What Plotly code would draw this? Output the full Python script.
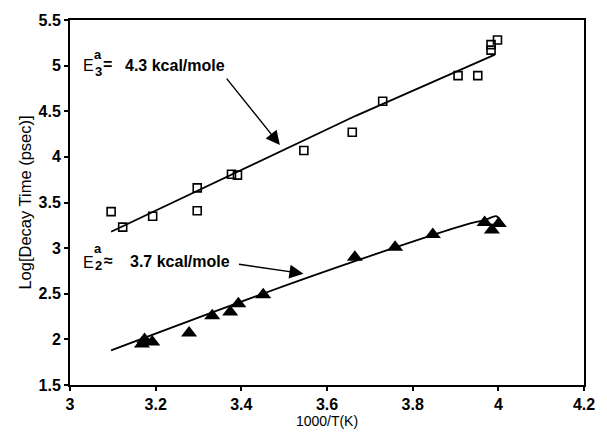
import plotly.graph_objects as go

# open squares: E3 data
sq_x = [3.096, 3.123, 3.193, 3.297, 3.297, 3.377, 3.391, 3.546, 3.659, 3.730, 3.906, 3.952, 3.983, 3.983, 3.998]
sq_y = [3.40, 3.23, 3.35, 3.66, 3.41, 3.81, 3.80, 4.07, 4.27, 4.61, 4.89, 4.89, 5.17, 5.23, 5.28]
# fit line for squares
fit3_x = [3.096, 3.49, 3.667, 3.992]
fit3_y = [3.18, 4.06, 4.45, 5.12]

# filled triangles: E2 data
tr_x = [3.168, 3.174, 3.192, 3.278, 3.332, 3.374, 3.393, 3.451, 3.665, 3.759, 3.847, 3.968, 3.985, 4.001]
tr_y = [1.95, 2.00, 1.97, 2.07, 2.26, 2.30, 2.39, 2.49, 2.90, 3.01, 3.15, 3.28, 3.20, 3.27]
# fit line for triangles
fit2_x = [3.096, 3.45, 3.667, 3.93, 3.97, 3.995, 4.003]
fit2_y = [1.88, 2.50, 2.86, 3.265, 3.31, 3.35, 3.31]

x_ticks = [3, 3.2, 3.4, 3.6, 3.8, 4, 4.2]
x_tick_text = ["3", "3.2", "3.4", "3.6", "3.8", "4", "4.2"]
y_ticks = [1.5, 2, 2.5, 3, 3.5, 4, 4.5, 5, 5.5]
y_tick_text = ["1.5", "2", "2.5", "3", "3.5", "4", "4.5", "5", "5.5"]

FONT = "Liberation Sans, Arial, sans-serif"

fig = go.Figure()
fig.add_trace(go.Scatter(x=fit3_x, y=fit3_y, mode="lines",
                         line=dict(color="black", width=1.8), hoverinfo="skip"))
fig.add_trace(go.Scatter(x=fit2_x, y=fit2_y, mode="lines", line_shape="spline",
                         line=dict(color="black", width=1.8), hoverinfo="skip"))
fig.add_trace(go.Scatter(x=sq_x, y=sq_y, mode="markers",
                         marker=dict(symbol="square-open", size=8, color="black",
                                     line=dict(width=1.6, color="black"))))
fig.add_trace(go.Scatter(x=tr_x, y=tr_y, mode="markers",
                         marker=dict(symbol="triangle-up", size=14, color="black",
                                     line=dict(width=0))))

big = dict(family=FONT, size=16, color="black")
mid = dict(family=FONT, size=16, color="black", weight="bold")
small = dict(family=FONT, size=13, color="black", weight="bold")


def txt(x, y, s, f, anchor="left"):
    return dict(x=x, y=y, xref="x", yref="y", text=s, showarrow=False,
                xanchor=anchor, yanchor="middle", font=f, borderpad=0)


annotations = [
    # E3 label
    txt(3.0280, 5.00, "E", big),
    txt(3.0655, 5.125, "a", small, "center"),
    txt(3.0655, 4.940, "3", small, "center"),
    txt(3.0750, 5.01, "=", mid),
    txt(3.1264, 5.00, "4.3 kcal/mole", mid),
    # E2 label
    txt(3.0280, 2.847, "E", big),
    txt(3.0655, 3.000, "a", small, "center"),
    txt(3.0655, 2.815, "2", small, "center"),
    txt(3.0760, 2.860, "\u2248", mid),
    txt(3.1380, 2.858, "3.7 kcal/mole", mid),
    # arrows
    dict(x=3.490, y=4.13, ax=3.363, ay=4.874, xref="x", yref="y", axref="x", ayref="y",
         text="", showarrow=True, arrowhead=2, arrowsize=2.0, arrowwidth=1.4,
         arrowcolor="black"),
    dict(x=3.545, y=2.72, ax=3.391, ay=2.826, xref="x", yref="y", axref="x", ayref="y",
         text="", showarrow=True, arrowhead=2, arrowsize=2.0, arrowwidth=1.4,
         arrowcolor="black"),
]

tickfont = dict(family=FONT, size=16, color="black", weight="bold")

fig.update_layout(
    width=607, height=435,
    margin=dict(l=70, r=15, t=16, b=42),
    paper_bgcolor="white", plot_bgcolor="white",
    showlegend=False,
    font=dict(family=FONT, color="black"),
    annotations=annotations,
    xaxis=dict(range=[3, 4.2], tickvals=x_ticks, ticktext=x_tick_text,
               showgrid=False, zeroline=False, showline=True, linecolor="black",
               linewidth=2, mirror=True, ticks="outside", ticklen=4, tickwidth=1.5,
               tickcolor="black", tickfont=tickfont,
               title=dict(text="1000/T(K)", font=dict(family=FONT, size=14, color="black"),
                          standoff=0)),
    yaxis=dict(range=[1.5, 5.5], tickvals=y_ticks, ticktext=y_tick_text,
               showgrid=False, zeroline=False, showline=True, linecolor="black",
               linewidth=2, mirror=True, ticks="outside", ticklen=4, tickwidth=1.5,
               tickcolor="black", tickfont=tickfont,
               title=dict(text="Log[Decay Time (psec)]",
                          font=dict(family=FONT, size=16.5, color="black"),
                          standoff=3)),
)

fig.write_html("out.html")
